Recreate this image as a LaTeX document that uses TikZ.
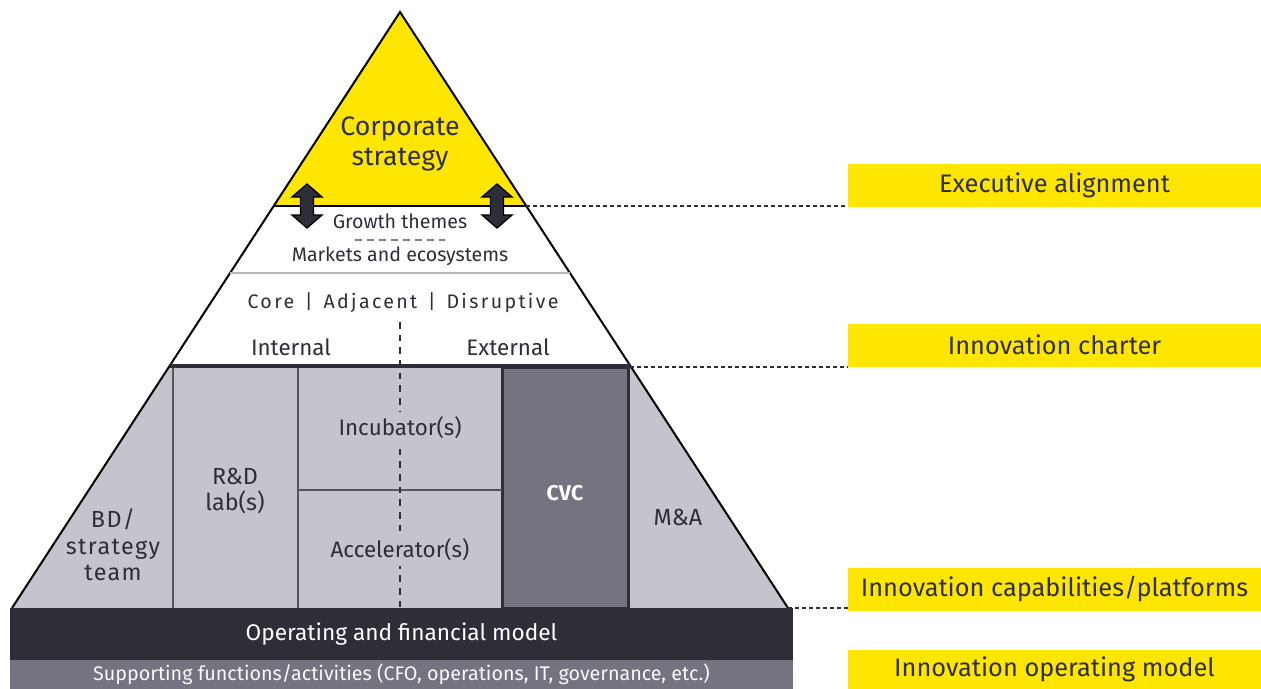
\documentclass[tikz,border=0pt]{standalone}
\usepackage{fontspec}
\setmainfont{Fira Sans}
\definecolor{eyyellow}{HTML}{FFE600}
\definecolor{eydark}{HTML}{2E2E38}
\definecolor{eymid}{HTML}{747480}
\definecolor{eylight}{HTML}{C4C4CD}
\definecolor{eyline}{HTML}{55555F}
\tikzset{
  txt/.style={text=eydark, align=center, inner sep=1pt, font=\fontsize{16.8}{19}\selectfont},
  small/.style={txt, font=\fontsize{14.7}{17}\selectfont},
  band/.style={minimum width=587.25pt, inner sep=0pt, font=\fontsize{17}{19}\selectfont},
  sidebox/.style={fill=eyyellow, text=eydark, minimum width=309.75pt, minimum height=32.25pt,
    inner sep=0pt, font=\fontsize{19}{22}\selectfont},
  outline/.style={black, line width=1.5pt},
  cellline/.style={eyline, line width=1pt},
  midline/.style={eydark, line width=1.2pt, dash pattern=on 5pt off 4.5pt},
  softdash/.style={gray, line width=1pt, dash pattern=on 5pt off 4pt},
  leader/.style={eydark, line width=1pt, dash pattern=on 3pt off 2.25pt},
  updown/.style={fill=eydark, draw=black, line width=1pt, line join=miter}
}
\begin{document}
\begin{tikzpicture}[x=0.75pt,y=-0.75pt]
\useasboundingbox (0,0) rectangle (1261,689);
% capabilities/platforms
\fill[eylight] (169.5,366) -- (630.5,366) -- (788,608) -- (12,608) -- cycle;
\draw[eydark,line width=2.25pt,fill=eymid] (502,367) rectangle (628,608);
\draw[cellline] (173,366) -- (173,608);
\draw[cellline] (298,366) -- (298,608);
\draw[cellline] (298,490) -- (502,490);
\draw[midline] (400,322) -- (400,608);
% corporate strategy
\fill[eyyellow] (400,12) -- (526,206) -- (274,206) -- cycle;
\draw[outline] (274,206) -- (526,206);
\draw[outline] (12,608) -- (400,12) -- (788,608);
\draw[gray!55,line width=1.2pt] (230,273) -- (570,273);
\draw[eydark,line width=3pt] (170,366) -- (630,366);
\draw[softdash] (355,240) -- (445,240);
\foreach \ax in {307,497}
  \draw[updown] (\ax,184) -- ++(15,13) -- ++(-8.5,0) -- ++(0,18) -- ++(8.5,0)
    -- ++(-15,13) -- ++(-15,-13) -- ++(8.5,0) -- ++(0,-18) -- ++(-8.5,0) -- cycle;
% bottom bands
\node[band,fill=eydark,text=white,minimum height=39pt] (opmodel) at (401.5,634) {\raisebox{-1.5pt}{Operating and financial model}};
\node[band,fill=eymid,text=white!88!eylight,minimum height=21.75pt,font=\fontsize{14.8}{16}\selectfont]
  (support) at (401.5,674.5) {\raisebox{-2.5pt}{Supporting functions/activities (CFO, operations, IT, governance, etc.)}};
% texts in the pyramid
\node[txt,font=\fontsize{20}{22.5}\selectfont] (corp) at (400,143.5) {Corporate\\strategy};
\node[small] (growth) at (400,221) {Growth themes};
\node[small] (markets) at (400,256) {Markets and ecosystems};
\node[small,font=\fontsize{14.7}{17}\selectfont\addfontfeatures{LetterSpace=12}] (horizon) at (403,303)
  {Core\hspace{8pt}|\hspace{8pt}Adjacent\hspace{8pt}|\hspace{8pt}Disruptive};
\node[txt] (intern) at (291,347) {Internal};
\node[txt] (extern) at (508,347) {External};
\node[txt,fill=eylight,inner sep=4pt] (incub) at (400,428) {Incubator(s)};
\node[txt,fill=eylight,inner sep=4pt] (accel) at (400,550) {Accelerator(s)};
\node[txt,font=\fontsize{17.5}{19}\selectfont] (rdlab) at (235,491) {R\&D\\lab(s)};
\node[txt,text=white,font=\fontsize{16}{19}\bfseries] (cvc) at (565,493) {CVC};
\node[txt,font=\fontsize{17.5}{19}\selectfont] (mna) at (678,517) {M\&A};
\node[txt,font=\fontsize{17.5}{20}\selectfont\addfontfeatures{LetterSpace=6}] (bdteam) at (113,545) {BD/\\strategy\\team};
% side labels
\node[sidebox] (execal) at (1054.5,185.5) {Executive alignment};
\node[sidebox] (charter) at (1054.5,345) {Innovation charter};
\node[sidebox] (caps) at (1054.5,589) {Innovation capabilities/platforms};
\node[sidebox,minimum height=29.25pt] (opm) at (1054.5,669.5) {Innovation operating model};
\coordinate (yR) at (526,206);
\coordinate (chR) at (630,367);
\coordinate (baseR) at (788,608);
\draw[leader] (yR) -- (yR -| execal.west);
\draw[leader] (chR) -- (chR -| charter.west);
\draw[leader] (baseR) -- (baseR -| caps.west);
\end{tikzpicture}
\end{document}
